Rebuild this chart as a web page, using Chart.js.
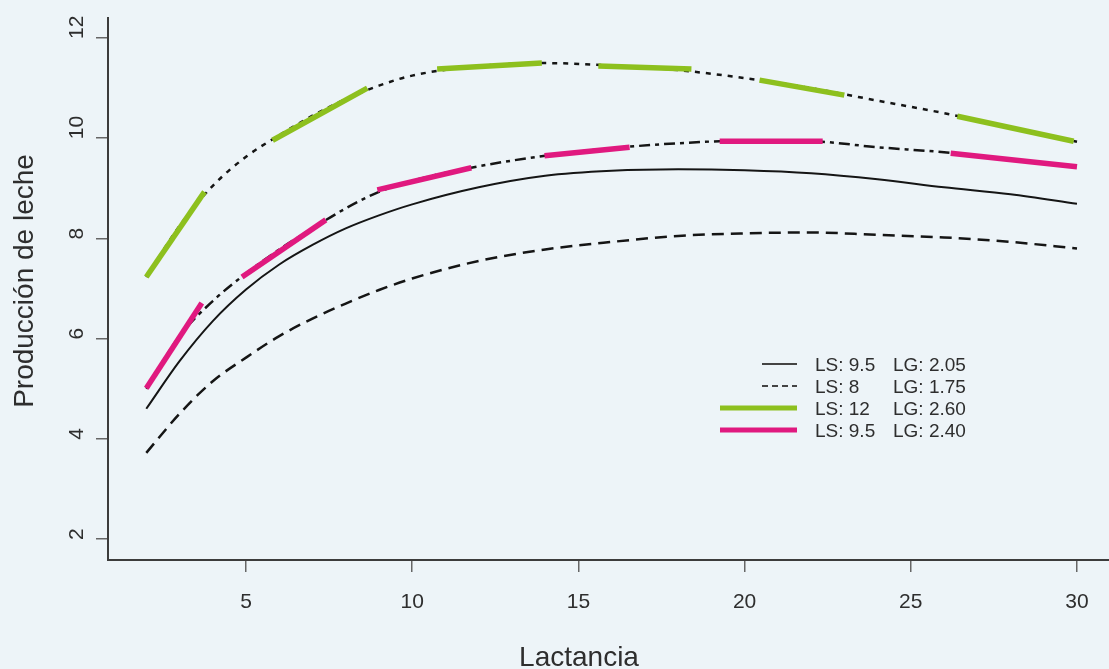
<!DOCTYPE html>
<html>
<head>
<meta charset="utf-8">
<script src="https://cdn.jsdelivr.net/npm/chart.js@4"></script>
<style>
  html, body { margin: 0; padding: 0; background: #edf4f8; }
  #wrap { width: 1109px; height: 669px; }
</style>
</head>
<body>
<div id="wrap"><canvas id="milkChart" width="1109" height="669"></canvas></div>
<script>
// Axis ticks
const xTicks = [5, 10, 15, 20, 25, 30];
const yTicks = [2, 4, 6, 8, 10, 12];

// Black curves
const curveX   = [2, 3, 4, 5, 6, 7, 8, 9, 10, 12, 14, 16, 18, 20, 22, 24, 26, 28, 30];
const solidY   = [4.6, 5.55, 6.35, 6.98, 7.48, 7.87, 8.2, 8.46, 8.68, 9.02, 9.25, 9.35, 9.38, 9.36, 9.3, 9.18, 9.02, 8.88, 8.69];
const dashedY  = [3.72, 4.5, 5.15, 5.62, 6.05, 6.4, 6.7, 6.97, 7.2, 7.55, 7.78, 7.93, 8.05, 8.1, 8.12, 8.07, 8.02, 7.93, 7.8];
const dottedY  = [7.23, 8.25, 9.05, 9.63, 10.06, 10.45, 10.78, 11.05, 11.25, 11.44, 11.5, 11.45, 11.36, 11.2, 11.0, 10.75, 10.5, 10.22, 9.93];
const dotdashY = [5.0, 6.05, 6.75, 7.3, 7.78, 8.2, 8.6, 8.93, 9.15, 9.44, 9.65, 9.8, 9.9, 9.95, 9.94, 9.82, 9.72, 9.58, 9.43];

// Coloured pieces: start/end of each visible stroke
const greenX = [2, 3.75, 5.8, 8.65, 10.75, 13.9, 15.6, 18.4, 20.45, 23.0, 26.4, 29.9];
const greenY = [7.23, 8.93, 9.96, 11.0, 11.38, 11.5, 11.44, 11.38, 11.16, 10.86, 10.44, 9.94];
const pinkX  = [2, 3.67, 4.88, 7.4, 8.95, 11.78, 13.98, 16.54, 19.25, 22.35, 26.2, 30];
const pinkY  = [5.01, 6.71, 7.23, 8.37, 8.97, 9.41, 9.65, 9.82, 9.94, 9.94, 9.7, 9.43];

// Legend
const legendLS = ['LS: 9.5', 'LS: 8', 'LS: 12', 'LS: 9.5'];
const legendLG = ['LG: 2.05', 'LG: 1.75', 'LG: 2.60', 'LG: 2.40'];

const FONT = '"Liberation Sans", Arial, Helvetica, sans-serif';
const BG = '#edf4f8';
const TEXT = '#2e2e2e';
const BLACK = '#151515';
const GREEN = '#8dc01e';
const PINK = '#e0197f';

function pts(xs, ys) {
    return xs.map((x, i) => ({ x: x, y: ys[i] }));
}

function blackLine(label, ys, dash, width) {
    return {
        label: label,
        data: pts(curveX, ys),
        borderColor: BLACK,
        borderWidth: width,
        borderDash: dash,
        cubicInterpolationMode: 'monotone',
        pointRadius: 0,
        fill: false
    };
}

// every other segment is hidden so only the strokes show
function pieces(label, xs, ys, color) {
    return {
        label: label,
        data: pts(xs, ys),
        borderColor: color,
        borderWidth: 5.5,
        tension: 0,
        pointRadius: 0,
        fill: false,
        segment: {
            borderColor: c => (c.p0DataIndex % 2 ? 'rgba(0,0,0,0)' : color)
        }
    };
}

// first dataset is painted last, so the coloured strokes sit on top
const datasets = [
    pieces('LS 12 LG 2.60', greenX, greenY, GREEN),
    pieces('LS 9.5 LG 2.40', pinkX, pinkY, PINK),
    blackLine('LS 9.5 LG 2.05', solidY, [], 2),
    blackLine('LS 8 LG 1.75', dashedY, [12, 7], 2.5),
    blackLine('dotted', dottedY, [5, 6], 2.5),
    blackLine('dotdash', dotdashY, [11, 5, 4, 5], 2.5)
];

const paperPlugin = {
    id: 'paper',
    beforeDraw(chart) {
        const ctx = chart.ctx;
        ctx.save();
        ctx.fillStyle = BG;
        ctx.fillRect(0, 0, chart.width, chart.height);
        ctx.restore();
    },
    afterDraw(chart) {
        const ctx = chart.ctx;
        const ys = chart.scales.y;
        ctx.save();
        ctx.fillStyle = TEXT;

        // y tick labels, rotated, starting at the tick
        ctx.font = '21px ' + FONT;
        ctx.textAlign = 'left';
        ctx.textBaseline = 'alphabetic';
        yTicks.forEach(v => {
            const py = ys.getPixelForValue(v);
            ctx.save();
            ctx.translate(83, py + 1);
            ctx.rotate(-Math.PI / 2);
            ctx.fillText(String(v), 0, 0);
            ctx.restore();
        });

        // axis titles
        ctx.font = '28px ' + FONT;
        ctx.textAlign = 'center';
        ctx.fillText('Lactancia', 579, 666);
        ctx.save();
        ctx.translate(33, 281);
        ctx.rotate(-Math.PI / 2);
        ctx.fillText('Producción de leche', 0, 0);
        ctx.restore();

        // legend
        const rows = [364, 386, 408, 430];
        const starts = [762, 762, 720, 720];
        const styles = [
            { color: '#444', width: 2, dash: [] },
            { color: '#444', width: 2, dash: [6, 4] },
            { color: GREEN, width: 5, dash: [] },
            { color: PINK, width: 5, dash: [] }
        ];
        legendLS.forEach((t, i) => {
            const st = styles[i];
            ctx.beginPath();
            ctx.setLineDash(st.dash);
            ctx.strokeStyle = st.color;
            ctx.lineWidth = st.width;
            ctx.moveTo(starts[i], rows[i]);
            ctx.lineTo(797, rows[i]);
            ctx.stroke();
            ctx.setLineDash([]);
            ctx.font = '19px ' + FONT;
            ctx.textAlign = 'left';
            ctx.textBaseline = 'middle';
            ctx.fillText(t, 815, rows[i] + 2);
            ctx.fillText(legendLG[i], 893, rows[i] + 2);
        });
        ctx.restore();
    }
};

new Chart(document.getElementById('milkChart'), {
    type: 'line',
    data: { datasets: datasets },
    options: {
        responsive: false,
        animation: false,
        devicePixelRatio: 1,
        layout: { padding: { top: 18, right: 0, left: 0, bottom: 0 } },
        plugins: { legend: { display: false }, tooltip: { enabled: false } },
        scales: {
            x: {
                type: 'linear',
                min: 0.848,
                max: 30.963,
                afterBuildTicks: s => { s.ticks = xTicks.map(v => ({ value: v })); },
                afterFit: s => { s.height = 109; },
                grid: { drawOnChartArea: false, drawTicks: true, tickLength: 12, color: '#666', lineWidth: 1.5 },
                border: { display: true, color: '#3c3c3c', width: 2 },
                ticks: { color: TEXT, font: { family: FONT, size: 21 }, padding: 18, maxRotation: 0, autoSkip: false }
            },
            y: {
                type: 'linear',
                min: 1.581,
                max: 12.40,
                afterBuildTicks: s => { s.ticks = yTicks.map(v => ({ value: v })); },
                afterFit: s => { s.width = 108; },
                grid: { drawOnChartArea: false, drawTicks: true, tickLength: 12, color: '#666', lineWidth: 1.5 },
                border: { display: true, color: '#3c3c3c', width: 2 },
                ticks: { display: false }
            }
        }
    },
    plugins: [paperPlugin]
});
</script>
</body>
</html>
